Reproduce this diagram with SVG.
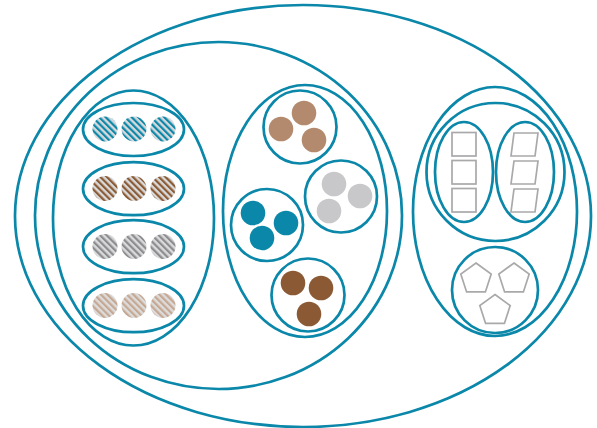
<svg xmlns="http://www.w3.org/2000/svg" width="597" height="428" viewBox="0 0 597 428">
<style>
.b{fill:none;stroke:#0a87a9;stroke-width:2.7}
.s{fill:none;stroke:#a9a9ab;stroke-width:1.7}
</style>
<defs>
<pattern id="hb" patternUnits="userSpaceOnUse" width="4.6" height="4.6" patternTransform="rotate(-45)"><rect width="4.6" height="4.6" fill="#d9dadc"/><rect width="2.2" height="4.6" fill="#0a87a9"/></pattern>
<pattern id="hr" patternUnits="userSpaceOnUse" width="4.6" height="4.6" patternTransform="rotate(-45)"><rect width="4.6" height="4.6" fill="#d9dadc"/><rect width="2.2" height="4.6" fill="#8b5a33"/></pattern>
<pattern id="hg" patternUnits="userSpaceOnUse" width="4.6" height="4.6" patternTransform="rotate(-45)"><rect width="4.6" height="4.6" fill="#d9dadc"/><rect width="2.2" height="4.6" fill="#8c8c8e"/></pattern>
<pattern id="ht" patternUnits="userSpaceOnUse" width="4.6" height="4.6" patternTransform="rotate(-45)"><rect width="4.6" height="4.6" fill="#dcdcdc"/><rect width="2.2" height="4.6" fill="#c6a892"/></pattern>
<polygon id="pent" points="0,-16 15.2,-4.9 9.4,12.9 -9.4,12.9 -15.2,-4.9"/>
</defs>
<g id="outer"><ellipse class="b" cx="303" cy="216" rx="288" ry="211"/></g>
<g id="inner"><ellipse class="b" cx="218.5" cy="215.5" rx="183.5" ry="173.5"/></g>
<g id="left-group">
<ellipse class="b" cx="133.5" cy="218" rx="80.5" ry="127.5"/>
<g id="row1"><ellipse class="b" cx="133.5" cy="129.5" rx="50.5" ry="26.5"/>
<circle cx="105" cy="129" r="12.5" fill="url(#hb)"/><circle cx="134" cy="129" r="12.5" fill="url(#hb)"/><circle cx="163" cy="129" r="12.5" fill="url(#hb)"/></g>
<g id="row2"><ellipse class="b" cx="133.5" cy="188.7" rx="50.5" ry="26.5"/>
<circle cx="105" cy="188.5" r="12.5" fill="url(#hr)"/><circle cx="134" cy="188.5" r="12.5" fill="url(#hr)"/><circle cx="163" cy="188.5" r="12.5" fill="url(#hr)"/></g>
<g id="row3"><ellipse class="b" cx="133.5" cy="246.7" rx="50.5" ry="26.5"/>
<circle cx="105" cy="246.5" r="12.5" fill="url(#hg)"/><circle cx="134" cy="246.5" r="12.5" fill="url(#hg)"/><circle cx="163" cy="246.5" r="12.5" fill="url(#hg)"/></g>
<g id="row4"><ellipse class="b" cx="133.5" cy="305.7" rx="50.5" ry="26.5"/>
<circle cx="105" cy="305.5" r="12.5" fill="url(#ht)"/><circle cx="134" cy="305.5" r="12.5" fill="url(#ht)"/><circle cx="163" cy="305.5" r="12.5" fill="url(#ht)"/></g>
</g>
<g id="middle-group">
<ellipse class="b" cx="305" cy="211" rx="82" ry="126"/>
<g id="tan"><circle class="b" cx="300" cy="127" r="36.5"/>
<g fill="#b38a6d"><circle cx="281" cy="129" r="12.3"/><circle cx="304" cy="113" r="12.3"/><circle cx="314" cy="140" r="12.3"/></g></g>
<g id="grey"><circle class="b" cx="341" cy="196.5" r="36"/>
<g fill="#c8c8ca"><circle cx="334" cy="184" r="12.3"/><circle cx="360" cy="196" r="12.3"/><circle cx="329" cy="211" r="12.3"/></g></g>
<g id="blue"><circle class="b" cx="267" cy="225" r="36"/>
<g fill="#0a87a9"><circle cx="253" cy="213" r="12.3"/><circle cx="286" cy="223" r="12.3"/><circle cx="262" cy="238" r="12.3"/></g></g>
<g id="brown"><circle class="b" cx="308" cy="295" r="36.5"/>
<g fill="#8b5a34"><circle cx="293" cy="283" r="12.3"/><circle cx="321" cy="288" r="12.3"/><circle cx="309" cy="314" r="12.3"/></g></g>
</g>
<g id="right-group">
<ellipse class="b" cx="495" cy="211.5" rx="82" ry="124.5"/>
<ellipse class="b" cx="495.5" cy="172" rx="69" ry="69"/>
<g id="squares"><ellipse class="b" cx="464" cy="172" rx="29" ry="50"/>
<rect class="s" x="452" y="132.5" width="24" height="23.5"/><rect class="s" x="452" y="160.5" width="24" height="23.5"/><rect class="s" x="452" y="188.5" width="24" height="23.5"/></g>
<g id="parallelograms"><ellipse class="b" cx="525" cy="172" rx="29" ry="50"/>
<polygon class="s" points="514,133 538,133 535,156 511,156"/>
<polygon class="s" points="514,161 538,161 535,184 511,184"/>
<polygon class="s" points="514,189 538,189 535,212 511,212"/></g>
<g id="pentagons"><circle class="b" cx="495" cy="290" r="43"/>
<use href="#pent" class="s" x="476" y="279"/><use href="#pent" class="s" x="514" y="279"/><use href="#pent" class="s" x="495" y="310.5"/></g>
</g>
</svg>
